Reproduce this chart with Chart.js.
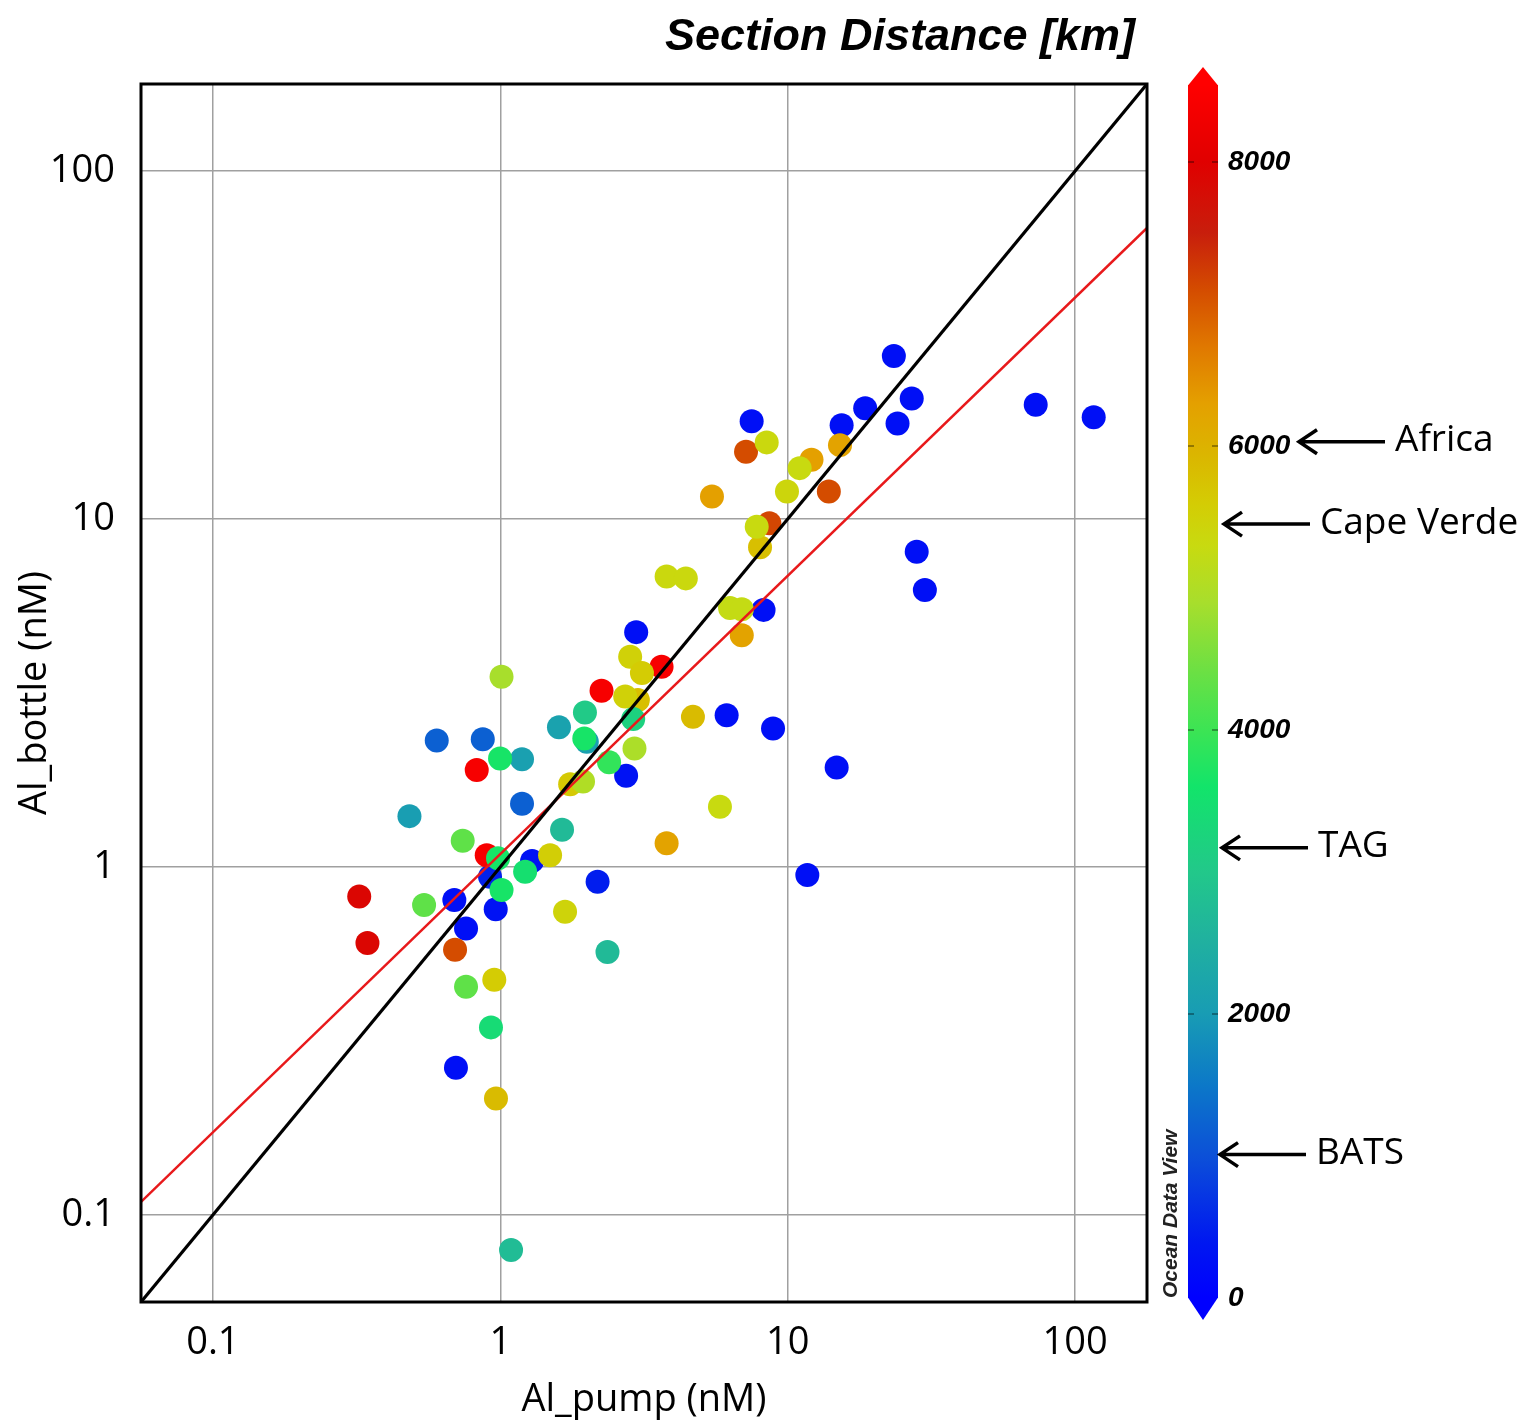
<!DOCTYPE html>
<html lang="en">
<head>
<meta charset="UTF-8">
<title>Al_bottle vs Al_pump</title>
<style>
  body { margin: 0; background: #fff; }
  #wrap { width: 1524px; height: 1425px; }
</style>
</head>
<body>
<div id="wrap"><canvas id="alChart" width="1524" height="1425"></canvas></div>
<script src="https://cdn.jsdelivr.net/npm/chart.js"></script>
<script>
// axis range (nM), same for both axes
const axisMin = 0.05623;
const axisMax = 177.8;
const decadeTicks = [0.1, 1, 10, 100];

// Al in pump samples (x), bottle samples (y) and section distance (km) for colour
const alPump = [
  0.921, 23.4, 27.0, 18.6, 15.4, 24.1, 7.49, 72.9, 116, 28.1, 30.0, 8.24, 2.97, 6.13,
  8.89, 14.8, 11.7, 2.18, 2.74, 1.29, 0.692, 0.964, 0.760, 0.701, 0.601, 0.869, 1.19,
  0.897, 0.828, 2.25, 3.64, 0.323, 0.345,
  7.16, 13.9, 8.63, 0.696,
  3.79, 6.92, 5.45, 15.2, 12.1,
  3.01, 4.68, 0.966, 8.01,
  1.49, 1.68, 0.953, 2.83, 3.11, 2.72, 1.75,
  1.01, 2.93, 1.94, 5.81, 3.79, 4.42, 6.30, 6.92, 8.45, 11.0, 9.94, 7.80,
  0.740, 0.543, 0.760,
  0.483, 1.19, 1.60, 2.00,
  1.64, 2.36, 1.09, 1.97, 2.90,
  0.998, 1.96, 0.982, 1.22, 1.01, 0.928, 2.39
];
const alBottle = [
  0.938, 29.4, 22.2, 20.8, 18.6, 18.8, 19.1, 21.3, 19.6, 8.05, 6.25, 5.48, 4.73, 2.73,
  2.50, 1.93, 0.948, 0.907, 1.83, 1.04, 0.804, 0.756, 0.666, 0.265, 2.31, 2.33, 1.52,
  1.08, 1.90, 3.21, 3.76, 0.822, 0.605,
  15.6, 12.0, 9.72, 0.578,
  1.17, 4.63, 11.6, 16.3, 14.8,
  3.02, 2.70, 0.216, 8.29,
  1.08, 0.744, 0.474, 4.02, 3.61, 3.09, 1.73,
  3.52, 2.19, 1.76, 1.49, 6.83, 6.75, 5.55, 5.50, 16.6, 14.0, 12.0, 9.50,
  1.19, 0.778, 0.453,
  1.40, 2.04, 2.52, 2.29,
  1.28, 0.570, 0.0793, 2.78, 2.66,
  2.05, 2.34, 1.06, 0.969, 0.859, 0.346, 2.00
];
const sectionDist = [
  500, 250, 250, 250, 250, 250, 250, 250, 250, 250, 250, 250, 250, 250,
  250, 250, 250, 450, 300, 300, 250, 300, 250, 250, 1200, 1200, 1200,
  8400, 8400, 8400, 8400, 7900, 7900,
  7100, 7100, 7150, 7100,
  6250, 6250, 6300, 6250, 6300,
  5800, 5850, 5850, 5800,
  5550, 5450, 5600, 5500, 5600, 5500, 5650,
  4900, 4950, 5000, 5300, 5350, 5350, 5250, 5250, 5350, 5300, 5400, 5300,
  4300, 4300, 4300,
  2050, 2100, 2150, 2100,
  2700, 2700, 2750, 3050, 3200,
  3650, 3650, 3650, 3500, 3650, 3400, 3900
];

// 1:1 line and the fitted line
const oneToOneX = [0.05623, 177.8];
const oneToOneY = [0.05623, 177.8];
const fitX = [0.05623, 177.8];
const fitY = [0.109, 68.6];

// colour bar (section distance, km)
const distTicks = [0, 2000, 4000, 6000, 8000];
const distMin = -28;
const distMax = 8549;
const colorStops = [
  [0, '#0000ff'], [400, '#0018f0'], [1000, '#0c50d8'], [1500, '#0c78c8'],
  [2000, '#189cb4'], [2500, '#20b0a0'], [3000, '#22c88a'], [3600, '#12e46a'],
  [4000, '#3ce454'], [4400, '#6ae044'], [4900, '#a8de2c'], [5300, '#c8da10'],
  [5600, '#d4cc04'], [5900, '#dab800'], [6300, '#e4a000'], [6700, '#e07800'],
  [7100, '#d44c00'], [7500, '#c81e0c'], [8000, '#e00000'], [8549, '#ff0000']
];

// places marked on the colour bar
const placeNames = ['Africa', 'Cape Verde', 'TAG', 'BATS'];
const placeDist = [6030, 5450, 3170, 1010];

function hexRgb(h) {
  return [parseInt(h.slice(1, 3), 16), parseInt(h.slice(3, 5), 16), parseInt(h.slice(5, 7), 16)];
}

function distColor(d) {
  if (d <= colorStops[0][0]) return colorStops[0][1];
  for (let i = 1; i < colorStops.length; i++) {
    if (d <= colorStops[i][0]) {
      const t = (d - colorStops[i - 1][0]) / (colorStops[i][0] - colorStops[i - 1][0]);
      const a = hexRgb(colorStops[i - 1][1]);
      const b = hexRgb(colorStops[i][1]);
      const c = a.map((v, k) => Math.round(v + (b[k] - v) * t));
      return 'rgb(' + c.join(',') + ')';
    }
  }
  return colorStops[colorStops.length - 1][1];
}

const pointData = alPump.map((x, i) => ({ x: x, y: alBottle[i] }));
const pointColors = sectionDist.map(d => distColor(d));

// keep the plot box where it is: no extra room for overhanging labels
function fixSize(prop, size) {
  return s => {
    s[prop] = size;
    s.paddingTop = 0; s.paddingBottom = 0; s.paddingLeft = 0; s.paddingRight = 0;
  };
}

// frame, title, colour bar and the place arrows
const decorPlugin = {
  id: 'decor',
  afterDatasetsDraw(chart) {
    const { ctx, chartArea: a } = chart;
    ctx.save();
    ctx.strokeStyle = '#000';
    ctx.lineWidth = 3;
    ctx.strokeRect(a.left, a.top, a.right - a.left, a.bottom - a.top);
    ctx.restore();
  },
  afterDraw(chart) {
    const ctx = chart.ctx;
    const cs = chart.scales.dist;
    ctx.save();

    // title
    ctx.fillStyle = '#000';
    ctx.font = 'italic bold 45px "Liberation Sans", Arial, sans-serif';
    ctx.textAlign = 'center';
    ctx.textBaseline = 'alphabetic';
    ctx.fillText('Section Distance [km]', 900, 50);

    // colour bar body
    const x0 = cs.left + 41, x1 = cs.left + 71, xc = (x0 + x1) / 2;
    const yBot = cs.getPixelForValue(0);
    const yTop = cs.getPixelForValue(distMax) + 1;
    const lastD = colorStops[colorStops.length - 1][0];
    const grad = ctx.createLinearGradient(0, yBot, 0, cs.getPixelForValue(lastD));
    colorStops.forEach(([d, c]) => grad.addColorStop(d / lastD, c));
    ctx.fillStyle = grad;
    ctx.fillRect(x0, yTop, x1 - x0, yBot - yTop);
    ctx.fillStyle = colorStops[colorStops.length - 1][1];
    ctx.beginPath();
    ctx.moveTo(x0, yTop + 0.5); ctx.lineTo(xc, yTop - 18); ctx.lineTo(x1, yTop + 0.5);
    ctx.closePath(); ctx.fill();
    ctx.fillStyle = colorStops[0][1];
    ctx.beginPath();
    ctx.moveTo(x0, yBot - 0.5); ctx.lineTo(xc, yBot + 22); ctx.lineTo(x1, yBot - 0.5);
    ctx.closePath(); ctx.fill();

    // little tick dashes on the bar
    ctx.strokeStyle = 'rgba(0,0,0,0.45)';
    ctx.lineWidth = 1.5;
    distTicks.slice(1).forEach(d => {
      const y = cs.getPixelForValue(d);
      ctx.beginPath();
      ctx.moveTo(x0, y); ctx.lineTo(x0 + 6, y);
      ctx.moveTo(x1 - 6, y); ctx.lineTo(x1, y);
      ctx.stroke();
    });

    // Ocean Data View
    ctx.save();
    ctx.translate(cs.left + 30, yBot);
    ctx.rotate(-Math.PI / 2);
    ctx.fillStyle = '#222';
    ctx.font = 'italic bold 21px "Liberation Sans", Arial, sans-serif';
    ctx.textAlign = 'left';
    ctx.fillText('Ocean Data View', 0, 0);
    ctx.restore();

    // place arrows
    const tipX = [cs.left + 150, x1 + 4, x1 + 2, x1];
    ctx.strokeStyle = '#000';
    ctx.fillStyle = '#000';
    ctx.lineWidth = 3.5;
    ctx.lineJoin = 'miter';
    ctx.font = '37px "Open Sans", sans-serif';
    ctx.textAlign = 'left';
    ctx.textBaseline = 'middle';
    placeNames.forEach((name, i) => {
      const y = cs.getPixelForValue(placeDist[i]);
      const tx = tipX[i];
      ctx.beginPath();
      ctx.moveTo(tx + 2, y); ctx.lineTo(tx + 88, y);
      ctx.moveTo(tx + 20, y - 12); ctx.lineTo(tx + 2, y); ctx.lineTo(tx + 20, y + 12);
      ctx.stroke();
      ctx.fillText(name, tx + 98, y - 1);
    });
    ctx.restore();
  }
};

const tickFont = { family: '"Open Sans", sans-serif', size: 38 };

new Chart(document.getElementById('alChart'), {
  type: 'scatter',
  data: {
    datasets: [
      {
        label: '1:1',
        data: oneToOneX.map((x, i) => ({ x: x, y: oneToOneY[i] })),
        showLine: true,
        borderColor: '#000',
        borderWidth: 3.2,
        pointRadius: 0,
        order: 0
      },
      {
        label: 'fit',
        data: fitX.map((x, i) => ({ x: x, y: fitY[i] })),
        showLine: true,
        borderColor: '#e8191b',
        borderWidth: 2.5,
        pointRadius: 0,
        order: 0
      },
      {
        label: 'samples',
        data: pointData,
        backgroundColor: pointColors,
        borderWidth: 0,
        pointRadius: 12,
        order: 1
      }
    ]
  },
  options: {
    responsive: false,
    devicePixelRatio: 1,
    animation: false,
    layout: { padding: { top: 84, left: 0, right: 0, bottom: 0 } },
    plugins: {
      legend: { display: false },
      tooltip: { enabled: false }
    },
    scales: {
      x: {
        type: 'logarithmic',
        position: 'bottom',
        min: axisMin,
        max: axisMax,
        afterBuildTicks: s => { s.ticks = decadeTicks.map(v => ({ value: v })); },
        afterFit: fixSize('height', 123),
        grid: { color: '#a0a0a0', lineWidth: 1.5, drawTicks: false },
        border: { display: false },
        ticks: {
          padding: 18, color: '#000', font: tickFont, maxRotation: 0, autoSkip: false,
          callback: v => String(v)
        },
        title: {
          display: true, text: 'Al_pump (nM)', color: '#000',
          font: { family: '"Open Sans", sans-serif', size: 38 },
          padding: { top: 0, bottom: 2 }
        }
      },
      y: {
        type: 'logarithmic',
        position: 'left',
        min: axisMin,
        max: axisMax,
        afterBuildTicks: s => { s.ticks = decadeTicks.map(v => ({ value: v })); },
        afterFit: fixSize('width', 141),
        grid: { color: '#a0a0a0', lineWidth: 1.5, drawTicks: false },
        border: { display: false },
        ticks: {
          padding: 26, color: '#000', font: tickFont, autoSkip: false,
          callback: v => String(v)
        },
        title: {
          display: true, text: 'Al_bottle (nM)', color: '#000',
          font: { family: '"Open Sans", sans-serif', size: 38 },
          padding: { top: 12, bottom: 0 }
        }
      },
      dist: {
        type: 'linear',
        axis: 'y',
        position: 'right',
        min: distMin,
        max: distMax,
        afterBuildTicks: s => { s.ticks = distTicks.map(v => ({ value: v })); },
        afterFit: fixSize('width', 377),
        grid: { display: false, drawTicks: false },
        border: { display: false },
        ticks: {
          padding: 81, color: '#000',
          font: { family: '"Liberation Sans", Arial, sans-serif', size: 28, weight: 'bold', style: 'italic' },
          callback: v => String(v)
        }
      }
    }
  },
  plugins: [decorPlugin]
});
</script>
</body>
</html>
